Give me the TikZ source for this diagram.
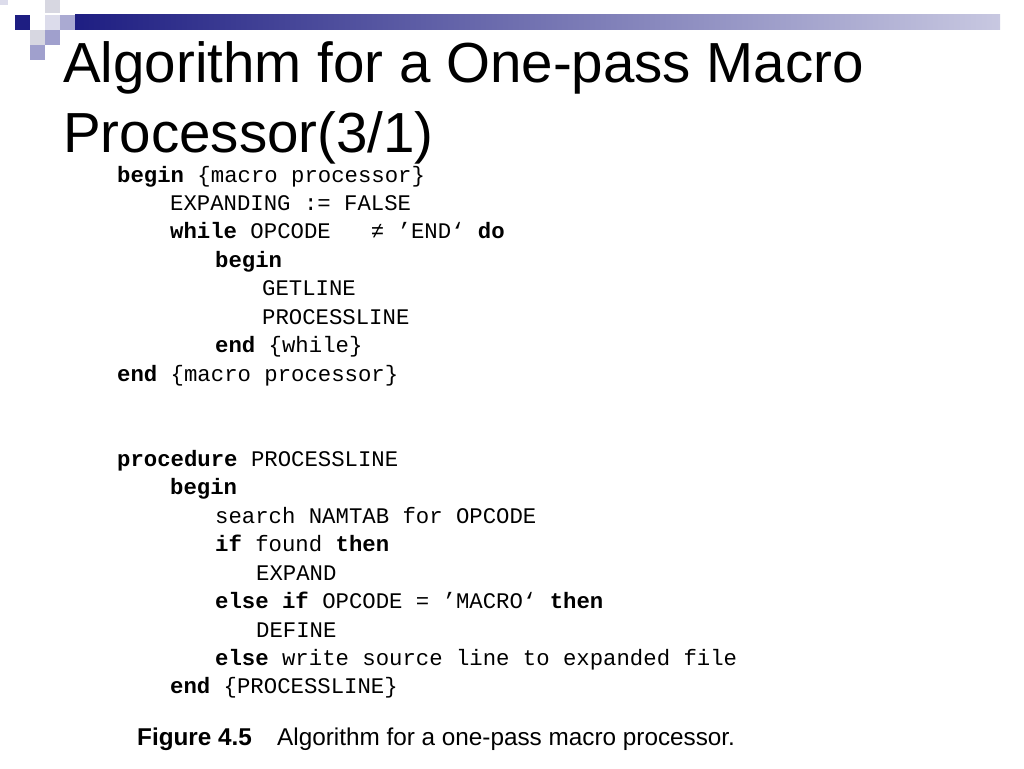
\documentclass[tikz,border=0pt]{standalone}
\usepackage{fontspec}
\setmainfont{Liberation Sans}
\newfontfamily\codefont{Liberation Mono}
\definecolor{navy}{RGB}{30,30,130}
\definecolor{barL}{RGB}{200,200,225}
\definecolor{sqA}{RGB}{220,220,235}
\definecolor{sqB}{RGB}{170,170,210}
\definecolor{sqC}{RGB}{215,215,225}
\definecolor{sqD}{RGB}{160,160,205}
\begin{document}
\begin{tikzpicture}[x=1pt,y=-1pt,
  ttl/.style={anchor=base west,inner sep=0,font=\fontsize{56.5}{56}\selectfont},
  cl/.style={anchor=base west,inner sep=0,font=\codefont\fontsize{22.3}{22}\selectfont},
  figcap/.style={anchor=base west,inner sep=0,font=\fontsize{24.3}{24}\selectfont}]
\useasboundingbox[fill=white] (0,0) rectangle (1024,768);
\shade[left color=navy,right color=barL] (75,15) rectangle (1000,30);
\fill[navy] (15,15) rectangle (30,30);
\fill[sqA] (45,15) rectangle (60,30);
\fill[sqB] (60,15) rectangle (75,30);
\fill[sqC] (45,0) rectangle (60,13);
\fill[sqA] (0,0) rectangle (8,5);
\fill[sqC] (30,30) rectangle (45,45);
\fill[sqD] (45,30) rectangle (60,45);
\fill[sqD] (30,45) rectangle (45,60);
\node[ttl] (t1) at (63,82) {Algorithm for a One-pass Macro};
\node[ttl] (t2) at (63,152) {Processor(3/1)};
\node[cl] (c1) at (117,182) {\textbf{begin} \{macro processor\}};
\node[cl] (c2) at (170,210) {EXPANDING := FALSE};
\node[cl] (c3) at (170,238) {\textbf{while} OPCODE\ \ \ ≠ ’END‘ \textbf{do}};
\node[cl] (c4) at (215,267) {\textbf{begin}};
\node[cl] (c5) at (262,295) {GETLINE};
\node[cl] (c6) at (262,324) {PROCESSLINE};
\node[cl] (c7) at (215,352) {\textbf{end} \{while\}};
\node[cl] (c8) at (117,381) {\textbf{end} \{macro processor\}};
\node[cl] (p1) at (117,466) {\textbf{procedure} PROCESSLINE};
\node[cl] (p2) at (170,494) {\textbf{begin}};
\node[cl] (p3) at (215,523) {search NAMTAB for OPCODE};
\node[cl] (p4) at (215,551) {\textbf{if} found \textbf{then}};
\node[cl] (p5) at (256,580) {EXPAND};
\node[cl] (p6) at (215,608) {\textbf{else if} OPCODE = ’MACRO‘ \textbf{then}};
\node[cl] (p7) at (256,637) {DEFINE};
\node[cl] (p8) at (215,665) {\textbf{else} write source line to expanded file};
\node[cl] (p9) at (170,693) {\textbf{end} \{PROCESSLINE\}};
\node[figcap] (f1) at (137,745) {\textbf{Figure 4.5}};
\node[figcap] (f2) at (277,745) {Algorithm for a one-pass macro processor.};
\end{tikzpicture}
\end{document}
